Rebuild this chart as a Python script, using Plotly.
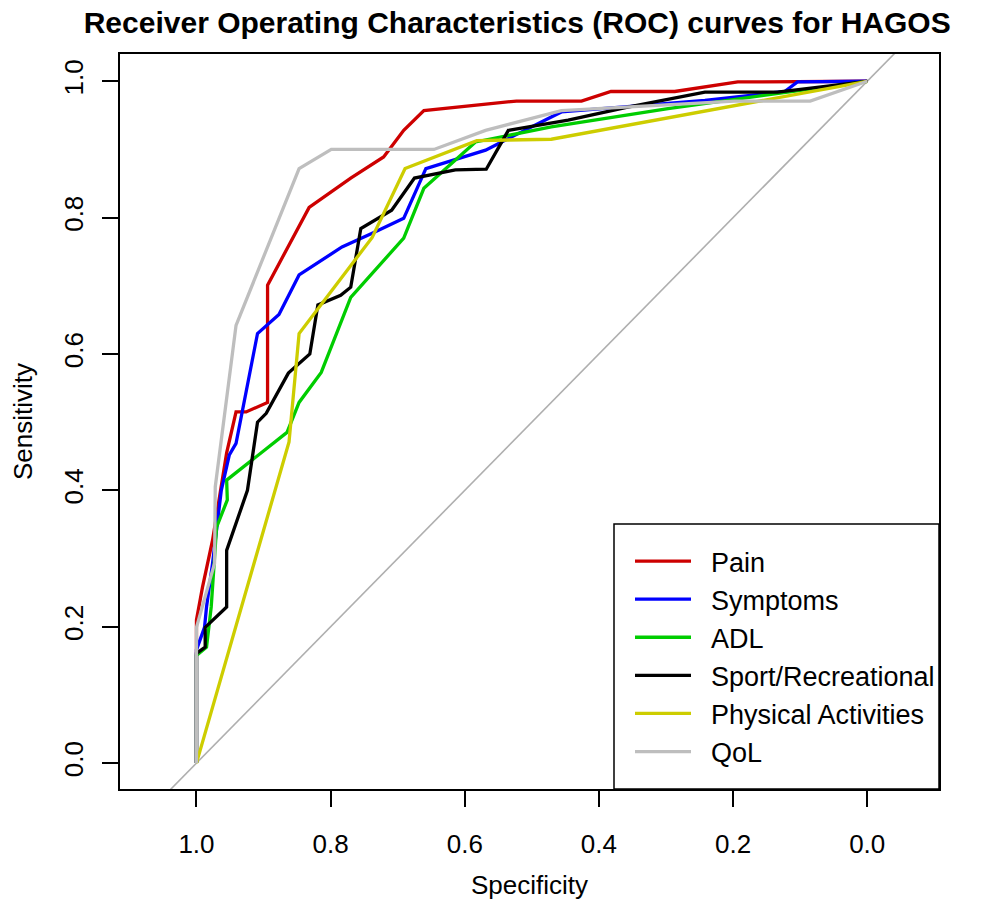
import plotly.graph_objects as go

# ---- data (specificity, sensitivity) ----
series_names = ["Pain", "Symptoms", "ADL", "Sport/Recreational", "Physical Activities", "QoL"]
series_colors = ["#CD0000", "#0000FF", "#00CD00", "#000000", "#CDCD00", "#BEBEBE"]

pain_spec = [1.0, 1.0, 0.991, 0.976, 0.955, 0.941, 0.926, 0.894, 0.894, 0.832, 0.770, 0.721, 0.691, 0.661, 0.523, 0.426, 0.382, 0.287, 0.193, 0.0]
pain_sens = [0.0, 0.210, 0.258, 0.327, 0.455, 0.515, 0.515, 0.529, 0.701, 0.815, 0.858, 0.889, 0.928, 0.957, 0.971, 0.971, 0.985, 0.985, 0.999, 1.0]

symp_spec = [1.0, 1.0, 0.988, 0.985, 0.976, 0.963, 0.951, 0.941, 0.909, 0.877, 0.847, 0.783, 0.738, 0.691, 0.658, 0.569, 0.545, 0.456, 0.367, 0.242, 0.123, 0.104, 0.0]
symp_sens = [0.0, 0.166, 0.199, 0.229, 0.293, 0.400, 0.452, 0.469, 0.630, 0.658, 0.716, 0.757, 0.777, 0.799, 0.872, 0.899, 0.911, 0.955, 0.962, 0.972, 0.985, 0.999, 1.0]

adl_spec = [1.0, 1.0, 0.985, 0.978, 0.973, 0.970, 0.954, 0.955, 0.865, 0.847, 0.814, 0.770, 0.691, 0.661, 0.584, 0.471, 0.297, 0.0]
adl_sens = [0.0, 0.158, 0.170, 0.229, 0.302, 0.346, 0.386, 0.415, 0.485, 0.529, 0.573, 0.683, 0.770, 0.843, 0.911, 0.933, 0.960, 1.0]

sport_spec = [1.0, 1.0, 0.987, 0.987, 0.955, 0.955, 0.924, 0.909, 0.896, 0.863, 0.831, 0.819, 0.785, 0.770, 0.755, 0.709, 0.675, 0.614, 0.568, 0.535, 0.446, 0.357, 0.242, 0.134, 0.0]
sport_sens = [0.0, 0.161, 0.170, 0.199, 0.229, 0.312, 0.400, 0.500, 0.513, 0.572, 0.600, 0.672, 0.686, 0.698, 0.784, 0.811, 0.858, 0.870, 0.871, 0.928, 0.943, 0.962, 0.984, 0.984, 1.0]

phys_spec = [1.0, 0.862, 0.847, 0.813, 0.738, 0.689, 0.582, 0.471, 0.0]
phys_sens = [0.0, 0.471, 0.630, 0.674, 0.771, 0.872, 0.913, 0.915, 1.0]

qol_spec = [1.0, 1.0, 0.973, 0.972, 0.941, 0.847, 0.799, 0.646, 0.569, 0.456, 0.198, 0.085, 0.0]
qol_sens = [0.0, 0.199, 0.293, 0.405, 0.642, 0.872, 0.900, 0.900, 0.928, 0.957, 0.971, 0.971, 1.0]

series_spec = [pain_spec, symp_spec, adl_spec, sport_spec, phys_spec, qol_spec]
series_sens = [pain_sens, symp_sens, adl_sens, sport_sens, phys_sens, qol_sens]

# identity (chance) line
diag_spec = [1.5, -0.5]
diag_sens = [-0.5, 1.5]

tick_vals = [0.0, 0.2, 0.4, 0.6, 0.8, 1.0]
tick_text = ["0.0", "0.2", "0.4", "0.6", "0.8", "1.0"]

FONT = "Liberation Sans, Arial, sans-serif"
NB = "\u00a0\u00a0"

fig = go.Figure()
fig.add_trace(go.Scatter(x=diag_spec, y=diag_sens, mode="lines",
                         line=dict(color="#AFAFAF", width=1.6),
                         showlegend=False, hoverinfo="skip"))

for i, (name, col) in enumerate(zip(series_names, series_colors)):
    fig.add_trace(go.Scatter(x=series_spec[i], y=series_sens[i], mode="lines",
                             name=NB + name, legendgroup=f"g{i}",
                             line=dict(color=col, width=3.3)))

fig.update_layout(
    width=987, height=903,
    paper_bgcolor="white", plot_bgcolor="white",
    margin=dict(l=120, r=48, t=54, b=114, autoexpand=False),
    font=dict(family=FONT, size=26, color="black"),
    title=dict(text="<b>Receiver Operating Characteristics (ROC) curves for HAGOS</b>",
               x=0.524, xanchor="center", y=1 - 22 / 903, yanchor="middle",
               font=dict(family=FONT, size=30, color="black")),
    showlegend=True,
    legend=dict(x=(630 - 120) / (939 - 120), xanchor="left",
                y=(789 - 537) / (789 - 54), yanchor="top",
                bgcolor="rgba(0,0,0,0)", borderwidth=0,
                font=dict(family=FONT, size=27, color="black"),
                tracegroupgap=0, itemwidth=56),
    shapes=[dict(type="rect", xref="paper", yref="paper",
                 x0=(614 - 120) / (939 - 120), x1=1, y0=0, y1=(789 - 524) / (789 - 54),
                 line=dict(color="black", width=1.5), fillcolor="white", layer="below")],
)

fig.update_xaxes(range=[1.114, -0.107], autorange=False, automargin=False,
                 tickvals=tick_vals, ticktext=tick_text,
                 ticks="outside", ticklen=16, tickwidth=1.5, tickcolor="black",
                 ticklabelstandoff=15,
                 showline=True, linecolor="black", linewidth=1.5, mirror=True,
                 showgrid=False, zeroline=False,
                 title=dict(text="Specificity", standoff=18,
                            font=dict(family=FONT, size=26)))
fig.update_yaxes(range=[-0.038, 1.040], autorange=False, automargin=False,
                 tickvals=tick_vals, ticktext=tick_text, tickangle=-90,
                 ticks="outside", ticklen=16, tickwidth=1.5, tickcolor="black",
                 ticklabelstandoff=9,
                 showline=True, linecolor="black", linewidth=1.5, mirror=True,
                 showgrid=False, zeroline=False,
                 title=dict(text="Sensitivity", standoff=19,
                            font=dict(family=FONT, size=26)))

fig.write_html("out.html")
